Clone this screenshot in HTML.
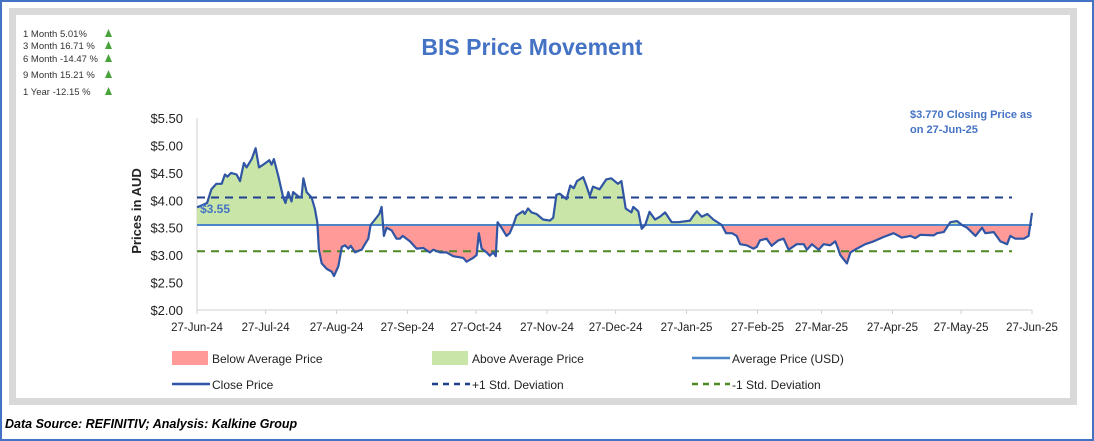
<!DOCTYPE html>
<html><head><meta charset="utf-8"><style>
body{margin:0;width:1094px;height:441px;background:#fff;overflow:hidden;font-family:"Liberation Sans",sans-serif}
#outer{position:absolute;left:0;top:0;width:1090px;height:437px;border:2px solid #4472C4}
#frame{position:absolute;left:9px;top:8px;width:1054px;height:383px;border:7px solid #d9d9d9;background:#fff}
#src{position:absolute;left:5px;top:417px;font-size:12.5px;font-weight:bold;font-style:italic;color:#000}
svg{position:absolute;left:0;top:0}
</style></head><body>
<div id="outer"></div>
<div id="frame"></div>
<div id="src">Data Source: REFINITIV; Analysis: Kalkine Group</div>
<svg id="chart" width="1094" height="441"></svg>
<script>
const tickLabels=["27-Jun-24","27-Jul-24","27-Aug-24","27-Sep-24","27-Oct-24","27-Nov-24","27-Dec-24","27-Jan-25","27-Feb-25","27-Mar-25","27-Apr-25","27-May-25","27-Jun-25"];
const tickDays=[0,30,61,92,122,153,183,214,245,273,304,334,365];
const yTicks=[2.0,2.5,3.0,3.5,4.0,4.5,5.0,5.5];
const avgPrice=3.55, plusStd=4.05, minusStd=3.07;
const perfLabels=["1 Month 5.01%","3 Month 16.71 %","6 Month -14.47 %","9 Month 15.21 %","1 Year -12.15 %"];
const days=[0,4.4,6.3,8.5,10.8,12.2,13.3,14.9,17.3,18.8,20.5,21.7,23.9,25.6,27.1,29,31.6,32.6,33.6,35.5,37.7,38.7,39.9,41.3,42,44.3,45.7,46.5,47.9,50.1,51.5,52.6,53.3,54.5,56.7,58.9,59.9,61.8,63.3,64.7,66.2,67.2,69.1,70.5,72,73.4,74.9,75.9,77.8,79.7,80.7,81.7,82.9,85.1,87.2,88.7,89.9,93.1,96,98.9,101.8,103.3,106.2,109.1,112,116.4,117.8,120.7,122.2,123.2,124.4,126.6,128,129.5,130.6,131.4,133.1,135.3,136.7,138.2,139.6,142.5,143.3,144.7,146.2,148.4,151.3,154.2,155.7,157.1,158.6,161.5,163.2,164.7,166.1,168.8,169.9,171.7,173.1,176,178.9,181.1,184,185.5,187.4,189.9,190.7,192.9,194.4,195.9,197.8,200.2,202.4,204.6,207.5,210.4,215.5,217,218.5,220.6,223.1,225.7,229.4,231.3,233.8,235.9,237.4,240.3,243.2,244.7,246.1,249,251.2,252,254.2,256.4,258.6,262.2,265.2,266.6,268.8,271.7,273.9,276.8,279,280,281.2,284.1,285.6,288.5,292.1,295.7,300.1,304.5,308.1,311.8,314,316.2,322,323.5,326.4,329.3,332.2,334.4,336.6,340.3,343.2,344.6,348.3,351.2,354.1,355.5,357.7,361.4,363.5,365];
const prices=[3.87,3.95,4.2,4.3,4.3,4.47,4.43,4.5,4.47,4.35,4.68,4.6,4.75,4.95,4.6,4.65,4.73,4.65,4.75,4.45,4.05,3.95,4.15,3.98,4.15,4.07,4.05,4.4,4.15,4.05,3.85,3.6,3.1,2.85,2.75,2.7,2.62,2.8,3.15,3.18,3.12,3.17,3.05,3.08,3.1,3.2,3.3,3.55,3.65,3.75,3.88,3.35,3.5,3.45,3.3,3.3,3.35,3.25,3.12,3.13,3.05,3.1,3.05,3.05,2.98,2.95,2.88,2.95,3.0,3.4,3.12,3.05,2.99,3.05,2.98,3.6,3.5,3.35,3.4,3.55,3.72,3.8,3.75,3.85,3.78,3.75,3.65,3.63,3.68,4.1,4.12,4.02,4.27,4.22,4.35,4.42,4.3,4.08,4.25,4.2,4.38,4.4,4.3,4.35,3.85,3.78,3.88,3.8,3.48,3.55,3.79,3.65,3.7,3.78,3.6,3.6,3.63,3.72,3.8,3.7,3.75,3.65,3.55,3.4,3.4,3.35,3.2,3.18,3.12,3.15,3.27,3.3,3.17,3.2,3.27,3.3,3.1,3.2,3.2,3.1,3.2,3.1,3.2,3.18,3.25,3.15,3.0,2.85,3.05,3.12,3.2,3.25,3.33,3.4,3.32,3.35,3.31,3.37,3.36,3.4,3.42,3.6,3.62,3.55,3.5,3.35,3.5,3.4,3.42,3.25,3.2,3.35,3.3,3.3,3.35,3.77];

const NS="http://www.w3.org/2000/svg", svg=document.getElementById('chart');
const X0=197,X1=1032,Y0=310,Y1=118;
const xs=d=>X0+d*(X1-X0)/365;
const ys=p=>Y0-(p-2)*(Y0-Y1)/3.5;
function mk(tag,attrs,parent){const e=document.createElementNS(NS,tag);for(const k in attrs)e.setAttribute(k,attrs[k]);(parent||svg).appendChild(e);return e;}

const title=mk('text',{x:532,y:55,'text-anchor':'middle','font-size':23,'font-weight':'bold',fill:'#4472C4'});
title.textContent='BIS Price Movement';



perfLabels.forEach((t,i)=>{
 const y=[37,49,62,78,95][i];
 const tx=mk('text',{x:23,y:y,'font-size':9.5,fill:'#333'});tx.textContent=t;
 
 
 const tr=mk('polygon',{points:`${105},${y} ${112},${y} ${108.5},${y-8}`,fill:'#4aa23c'});
 
 
});

const ya=mk('text',{transform:`translate(141,211) rotate(-90)`,'text-anchor':'middle','font-size':13,'font-weight':'bold',fill:'#222'});
ya.textContent='Prices in AUD';



yTicks.forEach(v=>{
 const t=mk('text',{x:183,y:ys(v)+5,'text-anchor':'end','font-size':13,fill:'#222'});
 t.textContent='$'+v.toFixed(2);
 
 
});
mk('line',{x1:X0,y1:Y1,x2:X0,y2:Y0,stroke:'#d0d0d0','stroke-width':1});
mk('line',{x1:X0,y1:Y0,x2:X1,y2:Y0,stroke:'#d0d0d0','stroke-width':1});
tickDays.forEach((d,i)=>{
 mk('line',{x1:xs(d),y1:Y0,x2:xs(d),y2:Y0+4,stroke:'#d0d0d0'});
 const t=mk('text',{x:xs(d),y:331,'text-anchor':'middle','font-size':11.5,fill:'#222'});
 t.textContent=tickLabels[i];
 
 
});

const ya0=ys(avgPrice);
const defs=mk('defs',{});
const ca=mk('clipPath',{id:'above'},defs);mk('rect',{x:0,y:0,width:1094,height:ya0},ca);
const cb=mk('clipPath',{id:'below'},defs);mk('rect',{x:0,y:ya0,width:1094,height:441},cb);
let pts=days.map((d,i)=>xs(d).toFixed(1)+','+ys(prices[i]).toFixed(1)).join(' ');
const areaPts=`${xs(days[0])},${ya0} `+pts+` ${xs(days[days.length-1])},${ya0}`;
const ag=mk('polygon',{points:areaPts,fill:'#c9e6a8','clip-path':'url(#above)'});


const ar=mk('polygon',{points:areaPts,fill:'#ff9a98','clip-path':'url(#below)'});



const pl=mk('line',{x1:X0,y1:ys(plusStd),x2:1012,y2:ys(plusStd),stroke:'#1f3f8f','stroke-width':2,'stroke-dasharray':'8,6'});


const ml=mk('line',{x1:X0,y1:ys(minusStd),x2:1012,y2:ys(minusStd),stroke:'#4e8a24','stroke-width':2,'stroke-dasharray':'8,6'});


const al=mk('line',{x1:X0,y1:ya0,x2:X1,y2:ya0,stroke:'#4a86c8','stroke-width':2});


const cl=mk('polyline',{points:pts,fill:'none',stroke:'#2f55a4','stroke-width':2.2,'stroke-linejoin':'round'});



const avl=mk('text',{x:200,y:213,'font-size':12,'font-weight':'bold',fill:'#4472C4'});
avl.textContent='$'+avgPrice.toFixed(2);


const an=mk('text',{x:910,y:118,'font-size':11,'font-weight':'bold',fill:'#4472C4'});
an.textContent='$3.770 Closing Price as';


const an2=mk('text',{x:910,y:133,'font-size':11,'font-weight':'bold',fill:'#4472C4'});
an2.textContent='on 27-Jun-25';



const leg=[
 {x:172,y:358,t:'Below Average Price',k:'rect',c:'#ff9a98'},
 {x:432,y:358,t:'Above Average Price',k:'rect',c:'#c9e6a8'},
 {x:692,y:358,t:'Average Price (USD)',k:'line',c:'#4a86c8'},
 {x:172,y:384,t:'Close Price',k:'line',c:'#2f55a4'},
 {x:432,y:384,t:'+1 Std. Deviation',k:'dash',c:'#1f3f8f'},
 {x:692,y:384,t:'-1 Std. Deviation',k:'dash',c:'#4e8a24'}];
leg.forEach(l=>{
 const g=mk('g',{});
 
 
 if(l.k==='rect')mk('rect',{x:l.x,y:l.y-7,width:36,height:14,fill:l.c},g);
 else mk('line',{x1:l.x,y1:l.y,x2:l.x+38,y2:l.y,stroke:l.c,'stroke-width':2.5,'stroke-dasharray':l.k==='dash'?'6,5':'none'},g);
 const t=mk('text',{x:l.x+40,y:l.y+5,'font-size':12,fill:'#222'},g);t.textContent=l.t;
});
</script>
</body></html>
